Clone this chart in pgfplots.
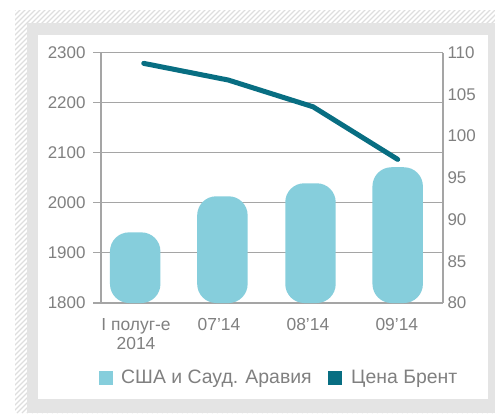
\documentclass[border=0pt]{standalone}
\usepackage{pgfplots}
\pgfplotsset{compat=1.18}
\usepackage{pgfplotstable}
\usepackage{fontspec}
\setmainfont{Liberation Sans}
\definecolor{barc}{RGB}{134,206,220}
\definecolor{linec}{RGB}{8,110,130}
\definecolor{txt}{RGB}{128,128,128}
\definecolor{axc}{RGB}{165,165,165}
\definecolor{panel}{RGB}{228,228,228}
\definecolor{hatch}{RGB}{222,222,222}

\pgfplotstableread{
x y
-0.1 1941
0.92 2013
1.95 2039
2.97 2071
}\bars
\pgfplotstableread{
x y
0 108.7
0.99 106.7
1.98 103.5
2.97 97.2
}\brent

\begin{document}
\begin{tikzpicture}[x=1bp,y=1bp]
\path[use as bounding box] (0,0) rectangle (495,-413);
\begin{scope}
\clip (15,-10) rectangle (495,-413);
\foreach \i in {0,5,...,950} \draw[hatch, line width=1.3bp] (\i-413,-413) -- (\i,0);
\end{scope}
\fill[panel] (27,-23) rectangle (495,-413);
\fill[white] (38,-35) rectangle (488,-399);

\pgfplotsset{
  every axis/.style={
    scale only axis, width=342bp, height=250.5bp,
    at={(101bp,-303bp)}, anchor=south west,
    xmin=-0.5, xmax=3.5,
    axis line style={axc, line width=1.1bp},
    tick style={axc, line width=1.1bp},
    tick label style={font=\fontsize{17}{20}\selectfont, text=txt},
    /pgf/number format/assume math mode=true,
  }
}
\begin{axis}[
  ymin=1800, ymax=2300, ytick={1800,1900,...,2300},
  axis x line*=bottom, axis y line*=left,
  ymajorgrids, grid style={axc, line width=1.1bp},
  tick align=outside, major tick length=8bp,
  y tick label style={/pgf/number format/1000 sep={}, xshift=-4bp},
  xtick={-0.09,0.88,1.92,2.96},
  xticklabels={{I полуг-е\\2014},07’14,08’14,09’14},
  x tick style={draw=none},
  xticklabel style={align=center, yshift=-4bp, font=\fontsize{17.5}{19}\selectfont},
  extra x ticks={0.5,1.5,2.5,3.5},
  extra x tick labels={},
  extra x tick style={tick style={axc, line width=1.1bp}, major tick length=6bp, grid=none},
  bar width=0.59,
]
\addplot[ybar, fill=barc, draw=none, rounded corners=19bp] table[x=x,y=y] {\bars};
\end{axis}
\begin{axis}[
  ymin=80, ymax=110, ytick={80,85,...,110},
  axis y line*=right, axis x line=none,
  major tick length=0bp,
  yticklabel style={xshift=1bp},
]
\addplot[linec, line width=5bp, line cap=round, line join=round] table[x=x,y=y] {\brent};
\end{axis}

\fill[barc] (99,-371) rectangle (113,-385);
\node[anchor=west, text=txt, font=\fontsize{19.5}{22}\selectfont, inner sep=0pt] at (121,-378.5) {США и Сауд. Аравия};
\fill[linec] (328,-371) rectangle (342,-385);
\node[anchor=west, text=txt, font=\fontsize{19.5}{22}\selectfont, inner sep=0pt] at (351,-378.5) {Цена Брент};
\end{tikzpicture}
\end{document}
